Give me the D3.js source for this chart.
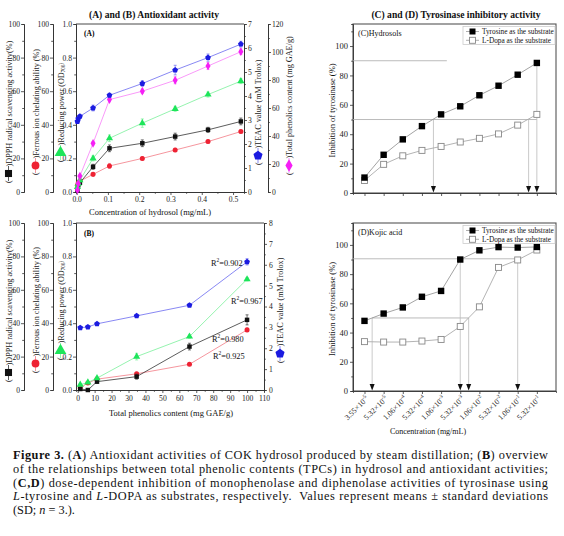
<!DOCTYPE html>
<html><head><meta charset="utf-8">
<script src="https://cdn.jsdelivr.net/npm/d3@7"></script>
<style>
body{margin:0;background:#fff}
svg{display:block;font-family:"Liberation Serif","Times New Roman",serif}
</style>
</head><body>
<svg id="c" width="564" height="536"></svg>
<script>
// ---------------- DATA ----------------
// Panel A: concentration of hydrosol (mg/mL)
const hydrosolConc = [0.00263, 0.00525, 0.0105, 0.0525, 0.105, 0.21, 0.315, 0.42, 0.525];
const aDPPH     = [1, 4, 5.5, 15, 26, 29, 33, 37, 42];            // %
const aDPPHErr  = [0.5, 0.5, 1, 1.5, 2, 2, 2, 1.5, 2];
const aFerrous  = [4, 5.5, 6.5, 10.5, 15.5, 20, 25, 30, 36];       // %
const aFerrousErr = [0.5, 0.5, 0.5, 1, 1.5, 1, 1, 1, 1];
const aReducing = [0.03, 0.05, 0.07, 0.20, 0.32, 0.41, 0.495, 0.58, 0.66]; // OD700
const aReducingErr = [0.005, 0.005, 0.01, 0.015, 0.02, 0.025, 0.015, 0.015, 0.015];
const aTEAC     = [2.94, 3.05, 3.15, 3.5, 4.03, 4.52, 5.08, 5.6, 6.16]; // mM Trolox
const aTEACErr  = [0.05, 0.05, 0.07, 0.12, 0.08, 0.12, 0.2, 0.15, 0.12];
const aTPC      = [1.5, 6, 11.4, 34.8, 66, 72, 79.8, 90, 100.2];  // mg GAE/g
const aTPCErr   = [0.5, 0.6, 1, 1.2, 1.5, 1.5, 2.5, 2.5, 2];

// Panel B: total phenolics content (mg GAE/g)
const tpcB      = [1.5, 6, 11.4, 34.8, 66, 100];
const bDPPH     = [0.6, 0, 5, 8, 26, 42];
const bDPPHErr  = [0.3, 0.3, 1, 1.5, 2, 3];
const bFerrous  = [1.2, 4.2, 6.5, 9.7, 15.4, 36];
const bFerrousErr = [0.3, 0.4, 0.5, 0.8, 0.8, 1];
const bReducing = [0.032, 0.045, 0.071, 0.20, 0.32, 0.663];
const bReducingErr = [0.005, 0.005, 0.007, 0.02, 0.01, 0.01];
const bTEAC     = [2.98, 3.02, 3.17, 3.55, 4.06, 6.14];
const bTEACErr  = [0.04, 0.04, 0.05, 0.06, 0.06, 0.15];
const bR2Labels = ["R²=0.902", "R²=0.967", "R²=0.980", "R²=0.925"];

// Panels C and D: tyrosinase inhibition (%)
const concLabels = [["3.55","-5"],["5.32","-5"],["1.06","-4"],["5.32","-4"],["1.06","-3"],
                    ["5.32","-3"],["1.06","-2"],["5.32","-2"],["1.06","-1"],["5.32","-1"]];
const cTyrosine = [10.5, 26, 36.5, 45.5, 53.5, 59, 66.5, 73, 80.5, 88.5];
const cLDopa    = [8.5, 19.5, 25.3, 29, 31.7, 34.7, 37.2, 40.2, 46.2, 53.5];
const dTyrosine = [48, 53, 57.2, 64.5, 68.5, 90, 96.3, 98.5, 98.2, 98.6];
const dLDopa    = [33.8, 33.5, 33.5, 34.2, 35.3, 44.2, 57.6, 84.6, 89.7, 96.5];
// reference lines (x in point index units, y in %)
const cHLines = [[90, -0.6, 4.3], [50, -0.6, 9]];
const cVLines = [[3.6, 50], [8.57, 50], [9, 88.5]];
const dHLines = [[90.5, -0.6, 8], [50, 0.4, 5.44]];
const dVLines = [[0.4, 50], [5, 90.5], [5.44, 50], [8, 90.5]];

// ---------------- DRAW ----------------
const svg = d3.select('#c');
const FONT = '"Liberation Serif","Times New Roman",serif';
const BLACK = '#111', RED = '#ee2233', GREEN = '#1de55a', BLUE = '#1b1be0', MAG = '#f51ff5';
const L_BLACK = '#333', L_RED = '#f27b85', L_GREEN = '#7af09a', L_BLUE = '#6a6af0', L_MAG = '#f77ff7';

function styleAxis(g, fs) {
  g.attr('font-family', FONT).attr('font-size', fs);
  g.selectAll('text').attr('fill', '#222');
  g.selectAll('line').attr('stroke', '#333').attr('stroke-width', 0.8);
  g.selectAll('path.domain').attr('stroke', '#333').attr('stroke-width', 0.9);
  return g;
}
function yAxis(x, scale, side, ticks, minor, fmt, fs, pad) {
  const mk = side === 'left' ? d3.axisLeft : d3.axisRight;
  const gm = svg.append('g').attr('transform', `translate(${x},0)`)
    .call(mk(scale).tickValues(minor).tickSize(1.8).tickFormat(''));
  styleAxis(gm, fs);
  const g = svg.append('g').attr('transform', `translate(${x},0)`)
    .call(mk(scale).tickValues(ticks).tickSize(3).tickSizeOuter(0).tickPadding(pad == null ? 1 : pad).tickFormat(fmt));
  styleAxis(g, fs);
  return g;
}
function xAxis(y, scale, ticks, minor, fmt, fs, pad) {
  const gm = svg.append('g').attr('transform', `translate(0,${y})`)
    .call(d3.axisBottom(scale).tickValues(minor).tickSize(1.8).tickFormat(''));
  styleAxis(gm, fs);
  const g = svg.append('g').attr('transform', `translate(0,${y})`)
    .call(d3.axisBottom(scale).tickValues(ticks).tickSize(3).tickSizeOuter(0).tickPadding(pad == null ? 1.5 : pad).tickFormat(fmt));
  styleAxis(g, fs);
  return g;
}
function series(xs, ys, errs, x, y, color, lcolor, sym, size) {
  const g = svg.append('g');
  const pts = xs.map((v, i) => [v, ys[i], errs ? errs[i] : 0]);
  g.append('path').datum(pts)
    .attr('d', d3.line().x(d => x(d[0])).y(d => y(d[1])))
    .attr('fill', 'none').attr('stroke', lcolor).attr('stroke-width', 0.8);
  if (errs) {
    pts.forEach(d => {
      const cx = x(d[0]);
      const y1 = y(d[1] - d[2]), y2 = y(d[1] + d[2]);
      g.append('line').attr('x1', cx).attr('x2', cx).attr('y1', y1).attr('y2', y2).attr('stroke', lcolor).attr('stroke-width', 0.7);
      [y1, y2].forEach(yy => g.append('line').attr('x1', cx - 1.5).attr('x2', cx + 1.5).attr('y1', yy).attr('y2', yy).attr('stroke', lcolor).attr('stroke-width', 0.7));
    });
  }
  g.selectAll('path.m').data(pts).join('path').attr('class', 'm')
    .attr('transform', d => `translate(${x(d[0])},${y(d[1])})`)
    .attr('d', d3.symbol(sym, size)).attr('fill', color);
}
const pentagon = {draw(ctx, size) {
  const r = Math.sqrt(size / 2.378);
  for (let i = 0; i < 5; i++) {
    const a = -Math.PI / 2 + i * 2 * Math.PI / 5;
    i ? ctx.lineTo(r * Math.cos(a), r * Math.sin(a)) : ctx.moveTo(r * Math.cos(a), r * Math.sin(a));
  }
  ctx.closePath();
}};
// rotated axis title with a marker legend "( -■- )Title"
function markerTitle(cx, cyBottom, sym, size, color, lcolor, parts, fs) {
  const g = svg.append('g').attr('transform', `translate(${cx},${cyBottom}) rotate(-90)`)
    .attr('font-family', FONT).attr('font-size', fs).attr('fill', '#222');
  g.append('text').attr('x', 0).attr('y', 0).attr('dominant-baseline', 'central').text('(');
  g.append('line').attr('x1', 2).attr('x2', 17).attr('y1', 0).attr('y2', 0).attr('stroke', lcolor).attr('stroke-width', 0.8);
  g.append('path').attr('transform', 'translate(9.5,0) rotate(90)').attr('d', d3.symbol(sym, size)()).attr('fill', color);
  const t = g.append('text').attr('x', 16.5).attr('y', 0).attr('dominant-baseline', 'central');
  parts.forEach(p => {
    if (typeof p === 'string') t.append('tspan').text(p);
    else t.append('tspan').attr('font-size', fs * 0.62).attr('dy', p.dy).text(p.t);
  });
}
function plainTitle(x, y, text, fs, rot, weight) {
  const t = svg.append('text').attr('x', x).attr('y', y).attr('text-anchor', 'middle')
    .attr('dominant-baseline', 'central').attr('font-family', FONT).attr('font-size', fs).attr('fill', '#111').text(text);
  if (rot) t.attr('transform', `rotate(${rot},${x},${y})`);
  if (weight) t.attr('font-weight', weight);
  return t;
}

// ===== Titles =====
plainTitle(154, 14, '(A) and (B) Antioxidant activity', 9.6, 0, 'bold');
plainTitle(456, 14, '(C) and (D) Tyrosinase inhibitory activity', 9.6, 0, 'bold');

const TF = 7.6; // tick font
// ===== Panel A =====
const AL = 76, AR = 244, AT = 24, AB = 192;
const xA = d3.scaleLinear().domain([-0.002, 0.535]).range([AL, AR]);
const yADPPH = d3.scaleLinear().domain([0, 100]).range([AB, AT]);
const yAFer = d3.scaleLinear().domain([0, 100]).range([AB, AT]);
const yARed = d3.scaleLinear().domain([0, 1]).range([AB, AT]);
const yATEAC = d3.scaleLinear().domain([0, 7]).range([AB, AT]);
const yATPC = d3.scaleLinear().domain([0, 120]).range([AB, AT]);
const pctTicks = d3.range(0, 101, 20), pctMinor = d3.range(10, 100, 20);
yAxis(24, yADPPH, 'left', pctTicks, pctMinor, d3.format('d'), TF);
yAxis(53, yAFer, 'left', pctTicks, pctMinor, d3.format('d'), TF);
yAxis(AL, yARed, 'left', d3.range(0, 1.01, 0.2), d3.range(0.1, 1, 0.2), d3.format('.1f'), TF);
xAxis(AB, xA, d3.range(0, 0.51, 0.1), d3.range(0.05, 0.55, 0.1), d3.format('.1f'), TF);
yAxis(AR, yATEAC, 'right', d3.range(0, 8), d3.range(0.5, 7, 1), d3.format('d'), TF);
yAxis(268, yATPC, 'right', d3.range(0, 121, 20), d3.range(10, 120, 20), d3.format('d'), TF);
svg.append('line').attr('x1', AL).attr('x2', AR).attr('y1', AT).attr('y2', AT).attr('stroke', '#333').attr('stroke-width', 0.9);
svg.append('text').attr('x', 84).attr('y', 36).attr('font-family', FONT).attr('font-size', 7.5).attr('font-weight', 'bold').text('(A)');
series(hydrosolConc, aFerrous, aFerrousErr, xA, yAFer, RED, L_RED, d3.symbolCircle, 20);
series(hydrosolConc, aDPPH, aDPPHErr, xA, yADPPH, BLACK, L_BLACK, d3.symbolSquare, 20);
series(hydrosolConc, aReducing, aReducingErr, xA, yARed, GREEN, L_GREEN, d3.symbolTriangle, 22);
series(hydrosolConc, aTPC, aTPCErr, xA, yATPC, MAG, L_MAG, d3.symbolDiamond, 22);
series(hydrosolConc, aTEAC, aTEACErr, xA, yATEAC, BLUE, L_BLUE, pentagon, 22);
plainTitle(150, 212, 'Concentration of hydrosol (mg/mL)', 8.5);
markerTitle(8.5, 183, d3.symbolSquare, 50, BLACK, L_BLACK, [')DPPH radical scavenging activity(%)'], 8.2);
markerTitle(35.5, 175, d3.symbolCircle, 48, RED, L_RED, [')Ferrous ion chelating ability (%)'], 8.2);
markerTitle(60.5, 162, d3.symbolTriangle, 60, GREEN, L_GREEN, [')Reducing power (OD', {t: '700', dy: 2}, {t: ')', dy: -2}], 8.2);
markerTitle(258, 165, pentagon, 55, BLUE, L_BLUE, [')TEAC value (mM Trolox)'], 8.2);
markerTitle(289, 175, d3.symbolDiamond, 45, MAG, L_MAG, [')Total phenolics content (mg GAE/g)'], 8.2);

// ===== Panel B =====
const BL = 76, BR = 264, BT = 223, BB = 390;
const xB = d3.scaleLinear().domain([-1, 110]).range([BL, BR]);
const yBDPPH = d3.scaleLinear().domain([0, 100]).range([BB, BT]);
const yBFer = d3.scaleLinear().domain([0, 100]).range([BB, BT]);
const yBRed = d3.scaleLinear().domain([0, 1]).range([BB, BT]);
const yBTEAC = d3.scaleLinear().domain([0, 8]).range([BB, BT]);
yAxis(24, yBDPPH, 'left', pctTicks, pctMinor, d3.format('d'), TF);
yAxis(53, yBFer, 'left', pctTicks, pctMinor, d3.format('d'), TF);
yAxis(BL, yBRed, 'left', d3.range(0, 1.01, 0.2), d3.range(0.1, 1, 0.2), d3.format('.1f'), TF);
xAxis(BB, xB, d3.range(0, 111, 10), d3.range(5, 110, 10), d3.format('d'), TF, 3);
yAxis(BR, yBTEAC, 'right', d3.range(0, 9), d3.range(0.5, 8, 1), d3.format('d'), TF, 2);
svg.append('line').attr('x1', BL).attr('x2', BR).attr('y1', BT).attr('y2', BT).attr('stroke', '#333').attr('stroke-width', 0.9);
svg.append('text').attr('x', 84).attr('y', 236).attr('font-family', FONT).attr('font-size', 7.5).attr('font-weight', 'bold').text('(B)');
series(tpcB, bFerrous, bFerrousErr, xB, yBFer, RED, L_RED, d3.symbolCircle, 20);
series(tpcB, bDPPH, bDPPHErr, xB, yBDPPH, BLACK, L_BLACK, d3.symbolSquare, 20);
series(tpcB, bReducing, bReducingErr, xB, yBRed, GREEN, L_GREEN, d3.symbolTriangle, 22);
series(tpcB, bTEAC, bTEACErr, xB, yBTEAC, BLUE, L_BLUE, pentagon, 22);
const r2Pos = [[211, 263], [231, 301], [212, 339], [213, 356]];
bR2Labels.forEach((s, i) => {
  const t = svg.append('text').attr('x', r2Pos[i][0]).attr('y', r2Pos[i][1]).attr('dominant-baseline', 'central')
    .attr('font-family', FONT).attr('font-size', 8.3).attr('fill', '#111');
  t.append('tspan').text('R');
  t.append('tspan').attr('font-size', 5.5).attr('dy', -3).text('2');
  t.append('tspan').attr('dy', 3).text(s.slice(2));
});
plainTitle(171, 413, 'Total phenolics content (mg GAE/g)', 8.5);
markerTitle(8.5, 382, d3.symbolSquare, 50, BLACK, L_BLACK, [')DPPH radical scavenging activity(%)'], 8.2);
markerTitle(35.5, 373, d3.symbolCircle, 48, RED, L_RED, [')Ferrous ion chelating ability (%)'], 8.2);
markerTitle(60.5, 360, d3.symbolTriangle, 60, GREEN, L_GREEN, [')Reducing power (OD', {t: '700', dy: 2}, {t: ')', dy: -2}], 8.2);
markerTitle(280, 363, pentagon, 55, BLUE, L_BLUE, [')TEAC value (mM Trolox)'], 8.2);

// ===== Panels C & D =====
function tyrPanel(top, bottom, label, tyr, dopa, hLines, vLines, withLabels) {
  const L = 353, R = 556;
  const x = d3.scaleLinear().domain([-0.6, 10]).range([L, R]);
  const y = d3.scaleLinear().domain([0, 115]).range([bottom, top]);
  const idx = d3.range(tyr.length);
  svg.append('rect').attr('x', L).attr('y', top).attr('width', R - L).attr('height', bottom - top)
    .attr('fill', 'none').attr('stroke', '#555').attr('stroke-width', 1.1);
  yAxis(L, y, 'left', d3.range(0, 101, 20), d3.range(10, 111, 20), d3.format('d'), 8.5, 2)
    .select('path.domain').remove();
  const gx = xAxis(bottom, x, idx, [], () => '', 8);
  gx.select('path.domain').remove();
  if (withLabels) {
    idx.forEach(i => {
      const t = svg.append('text').attr('transform', `translate(${x(i) + 2.5},${bottom + 6}) rotate(-45)`)
        .attr('text-anchor', 'end').attr('dominant-baseline', 'central')
        .attr('font-family', FONT).attr('font-size', 7.8).attr('fill', '#222');
      t.append('tspan').text(concLabels[i][0] + '×10');
      t.append('tspan').attr('font-size', 5.3).attr('dy', -2.5).text(concLabels[i][1]);
    });
  }
  hLines.forEach(h => svg.append('line').attr('x1', x(h[1])).attr('x2', x(h[2])).attr('y1', y(h[0])).attr('y2', y(h[0]))
    .attr('stroke', '#aaa').attr('stroke-width', 0.8));
  vLines.forEach(v => {
    svg.append('line').attr('x1', x(v[0])).attr('x2', x(v[0])).attr('y1', y(v[1])).attr('y2', bottom - 5)
      .attr('stroke', '#bbb').attr('stroke-width', 0.8);
    svg.append('path').attr('d', `M${x(v[0]) - 2.5},${bottom - 7}L${x(v[0]) + 2.5},${bottom - 7}L${x(v[0])},${bottom - 0.5}Z`).attr('fill', '#111');
  });
  const line = d3.line().x((d, i) => x(i)).y(d => y(d));
  svg.append('path').datum(tyr).attr('d', line).attr('fill', 'none').attr('stroke', '#999').attr('stroke-width', 0.9);
  svg.append('path').datum(dopa).attr('d', line).attr('fill', 'none').attr('stroke', '#aaa').attr('stroke-width', 0.9);
  svg.selectAll(null).data(dopa).join('rect')
    .attr('x', (d, i) => x(i) - 3).attr('y', d => y(d) - 3).attr('width', 6).attr('height', 6)
    .attr('fill', '#fff').attr('stroke', '#888').attr('stroke-width', 0.9);
  svg.selectAll(null).data(tyr).join('rect')
    .attr('x', (d, i) => x(i) - 3.2).attr('y', d => y(d) - 3.2).attr('width', 6.4).attr('height', 6.4)
    .attr('fill', '#000');
  svg.append('text').attr('x', 358).attr('y', top + 9).attr('dominant-baseline', 'central')
    .attr('font-family', FONT).attr('font-size', 8).attr('fill', '#111').text(label);
  const lx = 463, ly = top + 2.5;
  svg.append('rect').attr('x', lx).attr('y', ly).attr('width', R - lx - 1).attr('height', 18)
    .attr('fill', '#fff').attr('stroke', '#ccc').attr('stroke-width', 0.8);
  [['Tyrosine as the substrate', true], ['L-Dopa as the substrate', false]].forEach((e, i) => {
    const yy = ly + 5 + i * 8.8;
    svg.append('line').attr('x1', lx + 3).attr('x2', lx + 16).attr('y1', yy).attr('y2', yy).attr('stroke', '#999').attr('stroke-width', 0.8);
    svg.append('rect').attr('x', lx + 6.5).attr('y', yy - 3).attr('width', 6).attr('height', 6)
      .attr('fill', e[1] ? '#000' : '#fff').attr('stroke', e[1] ? 'none' : '#888').attr('stroke-width', 0.9);
    svg.append('text').attr('x', lx + 19).attr('y', yy).attr('dominant-baseline', 'central')
      .attr('font-family', FONT).attr('font-size', 7.3).attr('fill', '#111').text(e[0]);
  });
  plainTitle(332, (top + bottom) / 2 + 2, 'Inhibition of tyrosinase (%)', 8.5, -90);
}
tyrPanel(24, 193, '(C)Hydrosols', cTyrosine, cLDopa, cHLines, cVLines, false);
tyrPanel(223, 391, '(D)Kojic acid', dTyrosine, dLDopa, dHLines, dVLines, true);
plainTitle(428, 431, 'Concentration (mg/mL)', 8);

// ===== Caption =====
const capLines = [
  [['Figure 3.', 'b'], [' (', ''], ['A', 'b'], [') Antioxidant activities of COK hydrosol produced by steam distillation; (', ''], ['B', 'b'], [') overview', '']],
  [['of the relationships between total phenolic contents (TPCs) in hydrosol and antioxidant activities;', '']],
  [['(', ''], ['C,D', 'b'], [') dose-dependent inhibition of monophenolase and diphenolase activities of tyrosinase using', '']],
  [['L', 'i'], ['-tyrosine and ', ''], ['L', 'i'], ['-DOPA as substrates, respectively.  Values represent means ± standard deviations', '']],
  [['(SD; ', ''], ['n', 'i'], [' = 3.).', '']]
];
capLines.forEach((ln, i) => {
  const t = svg.append('text').attr('x', 13).attr('y', 459 + i * 13.8).attr('font-family', FONT)
    .attr('font-size', 12.3).attr('fill', '#111').attr('xml:space', 'preserve');
  ln.forEach(p => {
    const s = t.append('tspan').text(p[0]);
    if (p[1] === 'b') s.attr('font-weight', 'bold');
    if (p[1] === 'i') s.attr('font-style', 'italic');
  });
  if (i < 4) t.attr('textLength', 535).attr('lengthAdjust', 'spacing');
});
</script>
</body></html>
